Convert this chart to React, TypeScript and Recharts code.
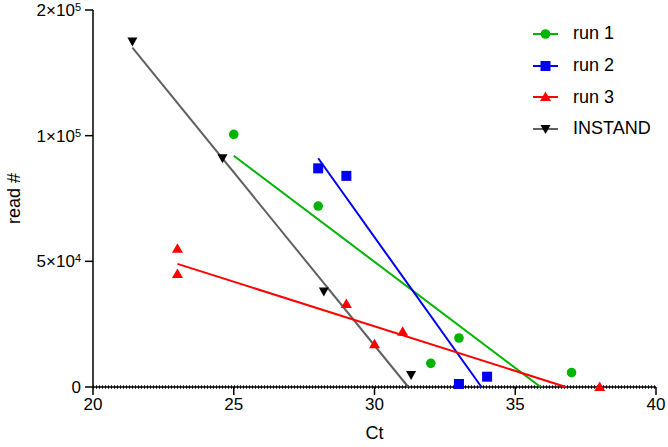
import React from "react";
import { ComposedChart, Scatter, XAxis, YAxis, ReferenceLine, Legend } from "recharts";

// measured points (Ct vs read count)
const run1Ct = [25, 28, 32, 33, 37];
const run1Reads = [101000, 72000, 9400, 19500, 5700];
const run2Ct = [28, 29, 33, 34];
const run2Reads = [87000, 84000, 1200, 4100];
const run3Ct = [23, 23, 29, 30, 31, 38];
const run3Reads = [55000, 45000, 33000, 17000, 22000, 0];
const instandCt = [21.4, 24.6, 28.2, 31.3];
const instandReads = [175000, 91000, 38000, 4800];

// regression line end points, as drawn on the plot
const run1FitCt = [25, 35.9];
const run1FitReads = [92000, 0];
const run2FitCt = [28, 33.8];
const run2FitReads = [91000, 0];
const run3FitCt = [23, 36.8];
const run3FitReads = [49000, 0];
const instandFitCt = [21.4, 31.2];
const instandFitReads = [170000, 0];

const xTicks = [20, 25, 30, 35, 40];
const yTickValues = [0, 50000, 100000, 200000];
const yTickBase = ["0", "5×10", "1×10", "2×10"];
const yTickExp = ["", "4", "5", "5"];

const GREEN = "#00B400";
const BLUE = "#0000F0";
const RED = "#FF0000";
const BLACK = "#000000";
const GREY = "#606060";
const FONT = "'Liberation Sans', Arial, sans-serif";

// the axis is split: 0..1e5 at full scale, 1e5..2e5 at half scale
const BREAK = 100000;
const squeeze = (v: number) => (v <= BREAK ? v : BREAK + (v - BREAK) / 2);

const toPoints = (ct: number[], reads: number[]) =>
  ct.map((c, i) => ({ ct: c, reads: squeeze(reads[i]) }));

const run1 = toPoints(run1Ct, run1Reads);
const run2 = toPoints(run2Ct, run2Reads);
const run3 = toPoints(run3Ct, run3Reads);
const instand = toPoints(instandCt, instandReads);
const run1Fit = toPoints(run1FitCt, run1FitReads);
const run2Fit = toPoints(run2FitCt, run2FitReads);
const run3Fit = toPoints(run3FitCt, run3FitReads);
const instandFit = toPoints(instandFitCt, instandFitReads);

const Circle = (color: string) => (p: any) => <circle cx={p.cx} cy={p.cy} r={4.8} fill={color} />;
const Square = (color: string) => (p: any) => (
  <rect x={p.cx - 5} y={p.cy - 5} width={10} height={10} fill={color} />
);
const TriUp = (color: string) => (p: any) => (
  <polygon points={`${p.cx},${p.cy - 5.5} ${p.cx + 5.5},${p.cy + 4} ${p.cx - 5.5},${p.cy + 4}`} fill={color} />
);
const TriDown = (color: string) => (p: any) => (
  <polygon points={`${p.cx},${p.cy + 5} ${p.cx + 5},${p.cy - 4} ${p.cx - 5},${p.cy - 4}`} fill={color} />
);
const NoDot = () => <g />;

function YTick(props: any) {
  const { x, y, payload } = props;
  const i = yTickValues.map(squeeze).indexOf(payload.value);
  if (i < 0) return null;
  return (
    <text x={x} y={y} dy={6} textAnchor="end" fontSize={17} fill="#000" fontFamily={FONT}>
      {yTickBase[i]}
      {yTickExp[i] && (
        <tspan dy={-5} fontSize={11}>
          {yTickExp[i]}
        </tspan>
      )}
    </text>
  );
}

const legendItems = [
  { name: "run 1", line: GREEN, mark: GREEN, shape: "circle" },
  { name: "run 2", line: BLUE, mark: BLUE, shape: "square" },
  { name: "run 3", line: RED, mark: RED, shape: "up" },
  { name: "INSTAND", line: GREY, mark: BLACK, shape: "down" },
];

function LegendBox() {
  return (
    <div style={{ fontFamily: FONT, fontSize: 18, color: "#000" }}>
      {legendItems.map((it) => {
        const p = { cx: 20.5, cy: 16 };
        let m;
        if (it.shape === "circle") m = Circle(it.mark)(p);
        else if (it.shape === "square") m = Square(it.mark)(p);
        else if (it.shape === "up") m = TriUp(it.mark)(p);
        else m = TriDown(it.mark)(p);
        return (
          <div key={it.name} style={{ display: "flex", alignItems: "center", height: 31.7 }}>
            <svg width={48} height={32}>
              <line x1={8} x2={33} y1={16} y2={16} stroke={it.line} strokeWidth={2} />
              {m}
            </svg>
            <span>{it.name}</span>
          </div>
        );
      })}
    </div>
  );
}

export default function App() {
  return (
    <div style={{ position: "absolute", left: 0, top: 0, fontFamily: FONT }}>
      <ComposedChart width={668} height={447} margin={{ top: 10, right: 12, bottom: 5, left: 0 }}>
        <XAxis
          type="number"
          dataKey="ct"
          domain={[20, 40]}
          ticks={xTicks}
          height={55}
          tickSize={8}
          tickMargin={3}
          tick={{ fill: "#000", fontSize: 17, fontFamily: FONT }}
          axisLine={{ stroke: "#000", strokeWidth: 1.5 }}
          tickLine={{ stroke: "#000", strokeWidth: 1.5 }}
          label={{ value: "Ct", position: "insideBottom", offset: 3, fill: "#000", fontSize: 18 }}
        />
        <YAxis
          type="number"
          dataKey="reads"
          domain={[0, squeeze(200000)]}
          ticks={yTickValues.map(squeeze)}
          width={93}
          tickSize={8}
          tickMargin={4}
          tick={<YTick />}
          axisLine={{ stroke: "#000", strokeWidth: 1.5 }}
          tickLine={{ stroke: "#000", strokeWidth: 1.5 }}
          label={{
            value: "read #",
            angle: -90,
            position: "insideLeft",
            offset: 14,
            fill: "#000",
            fontSize: 18,
            style: { textAnchor: "middle" },
          }}
        />
        <ReferenceLine y={0} stroke="#111" strokeWidth={3.5} strokeDasharray="1 2" />
        <Legend
          layout="vertical"
          align="center"
          verticalAlign="middle"
          wrapperStyle={{ left: 525, top: 18, width: 140 }}
          content={() => <LegendBox />}
        />
        <Scatter data={instandFit} line={{ stroke: GREY, strokeWidth: 2 }} shape={NoDot} legendType="none" isAnimationActive={false} />
        <Scatter data={run1Fit} line={{ stroke: GREEN, strokeWidth: 2 }} shape={NoDot} legendType="none" isAnimationActive={false} />
        <Scatter data={run2Fit} line={{ stroke: BLUE, strokeWidth: 2 }} shape={NoDot} legendType="none" isAnimationActive={false} />
        <Scatter data={run3Fit} line={{ stroke: RED, strokeWidth: 2 }} shape={NoDot} legendType="none" isAnimationActive={false} />
        <Scatter name="run 1" data={run1} shape={Circle(GREEN)} isAnimationActive={false} />
        <Scatter name="run 2" data={run2} shape={Square(BLUE)} isAnimationActive={false} />
        <Scatter name="run 3" data={run3} shape={TriUp(RED)} isAnimationActive={false} />
        <Scatter name="INSTAND" data={instand} shape={TriDown(BLACK)} isAnimationActive={false} />
      </ComposedChart>
    </div>
  );
}
